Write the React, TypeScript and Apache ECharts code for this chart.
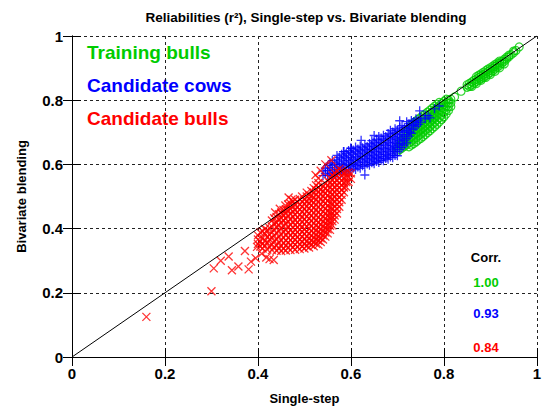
import React, { useEffect, useRef } from "react";
import * as echarts from "echarts";

const TITLE = "Reliabilities (r²), Single-step vs. Bivariate blending";
const X_NAME = "Single-step";
const Y_NAME = "Bivariate blending";
const GROUP_NAMES = ["Training bulls", "Candidate cows", "Candidate bulls"];
const CORR_VALUES = ["1.00", "0.93", "0.84"];
const COLORS = ["#00cc00", "#0000ff", "#ff0000"];

// Each entry: [single-step x, list of bivariate-blending y values read at that x]
const trainingBullsCols: [number, number[]][] = [
  [0.700, [0.640, 0.652]],
  [0.705, [0.646, 0.659, 0.672]],
  [0.710, [0.651, 0.664, 0.677]],
  [0.715, [0.656, 0.669, 0.682, 0.695]],
  [0.720, [0.662, 0.675, 0.688, 0.701]],
  [0.725, [0.655, 0.667, 0.680, 0.693, 0.706]],
  [0.730, [0.660, 0.672, 0.685, 0.698, 0.711, 0.724]],
  [0.735, [0.665, 0.678, 0.691, 0.704, 0.717, 0.730]],
  [0.740, [0.670, 0.683, 0.696, 0.709, 0.722, 0.735]],
  [0.745, [0.676, 0.689, 0.702, 0.715, 0.728, 0.741]],
  [0.750, [0.681, 0.694, 0.707, 0.720, 0.733, 0.746]],
  [0.755, [0.687, 0.700, 0.713, 0.726, 0.739, 0.752]],
  [0.760, [0.693, 0.706, 0.719, 0.732, 0.745, 0.757]],
  [0.765, [0.699, 0.712, 0.725, 0.738, 0.751, 0.763]],
  [0.770, [0.705, 0.718, 0.731, 0.744, 0.757, 0.769]],
  [0.775, [0.712, 0.725, 0.738, 0.751, 0.763, 0.775]],
  [0.780, [0.718, 0.731, 0.744, 0.757, 0.769, 0.781]],
  [0.785, [0.725, 0.738, 0.751, 0.764, 0.776, 0.787]],
  [0.790, [0.732, 0.745, 0.758, 0.770, 0.782, 0.793]],
  [0.795, [0.740, 0.753, 0.765, 0.777, 0.789]],
  [0.800, [0.748, 0.761, 0.773, 0.785, 0.796]],
  [0.805, [0.757, 0.770, 0.782, 0.793, 0.803]],
  [0.810, [0.768, 0.780, 0.791, 0.801]],
  [0.815, [0.780, 0.792, 0.803]],
  [0.823, [0.810]],
  [0.837, [0.828]],
  [0.850, [0.840, 0.848]],
  [0.855, [0.843, 0.852]],
  [0.860, [0.843, 0.848, 0.857]],
  [0.865, [0.853, 0.862]],
  [0.870, [0.852, 0.858, 0.866, 0.873]],
  [0.875, [0.862, 0.870, 0.878]],
  [0.880, [0.862, 0.867, 0.875, 0.882]],
  [0.885, [0.871, 0.879, 0.887]],
  [0.890, [0.871, 0.876, 0.884, 0.892]],
  [0.895, [0.881, 0.889, 0.897]],
  [0.900, [0.880, 0.886, 0.894, 0.901]],
  [0.905, [0.891, 0.899, 0.906]],
  [0.910, [0.890, 0.897, 0.905, 0.911]],
  [0.915, [0.903, 0.910, 0.916]],
  [0.920, [0.901, 0.909, 0.916, 0.922]],
  [0.925, [0.915, 0.922]],
  [0.930, [0.913, 0.921, 0.928]],
  [0.935, [0.928, 0.934]],
  [0.940, [0.935, 0.940]],
  [0.945, [0.942]],
  [0.950, [0.948, 0.953]],
  [0.955, [0.955]],
  [0.962, [0.966]],
];

const candidateCowsCols: [number, number[]][] = [
  [0.540, [0.565, 0.580]],
  [0.545, [0.572, 0.588]],
  [0.550, [0.566, 0.581, 0.596]],
  [0.555, [0.573, 0.589, 0.604]],
  [0.560, [0.567, 0.582, 0.597, 0.612]],
  [0.565, [0.575, 0.590, 0.605]],
  [0.570, [0.570, 0.584, 0.599, 0.614, 0.628]],
  [0.575, [0.578, 0.593, 0.608, 0.622]],
  [0.580, [0.573, 0.587, 0.602, 0.617, 0.632]],
  [0.585, [0.581, 0.596, 0.611, 0.625, 0.640]],
  [0.590, [0.576, 0.590, 0.605, 0.620, 0.634]],
  [0.595, [0.584, 0.599, 0.613, 0.628, 0.643]],
  [0.600, [0.580, 0.594, 0.608, 0.622, 0.637, 0.651]],
  [0.605, [0.588, 0.602, 0.616, 0.631, 0.645]],
  [0.610, [0.584, 0.597, 0.611, 0.625, 0.640, 0.654]],
  [0.615, [0.592, 0.606, 0.620, 0.634, 0.648]],
  [0.620, [0.588, 0.601, 0.615, 0.629, 0.643, 0.657]],
  [0.625, [0.596, 0.610, 0.624, 0.638, 0.652]],
  [0.630, [0.567, 0.593, 0.606, 0.619, 0.633, 0.647, 0.661]],
  [0.635, [0.601, 0.614, 0.628, 0.642, 0.656]],
  [0.640, [0.597, 0.610, 0.623, 0.637, 0.651, 0.665]],
  [0.645, [0.605, 0.618, 0.632, 0.646, 0.660, 0.674]],
  [0.650, [0.602, 0.614, 0.627, 0.641, 0.655, 0.669, 0.690]],
  [0.655, [0.609, 0.622, 0.636, 0.650, 0.664, 0.678]],
  [0.660, [0.606, 0.618, 0.631, 0.645, 0.659, 0.673, 0.687]],
  [0.665, [0.613, 0.626, 0.640, 0.654, 0.668, 0.682]],
  [0.670, [0.611, 0.623, 0.636, 0.649, 0.663, 0.677, 0.691]],
  [0.675, [0.618, 0.631, 0.645, 0.659, 0.673, 0.687]],
  [0.680, [0.616, 0.628, 0.641, 0.654, 0.668, 0.682, 0.696]],
  [0.685, [0.623, 0.636, 0.650, 0.664, 0.678, 0.692, 0.706]],
  [0.690, [0.621, 0.633, 0.646, 0.659, 0.673, 0.687, 0.701]],
  [0.695, [0.628, 0.641, 0.655, 0.669, 0.683, 0.697, 0.711]],
  [0.700, [0.627, 0.639, 0.652, 0.665, 0.679, 0.693, 0.707]],
  [0.705, [0.646, 0.660, 0.674, 0.688, 0.702, 0.716, 0.736]],
  [0.710, [0.652, 0.665, 0.679, 0.693, 0.707, 0.721]],
  [0.715, [0.660, 0.673, 0.686, 0.700, 0.714]],
  [0.720, [0.667, 0.680, 0.693, 0.706, 0.720, 0.733]],
  [0.725, [0.688, 0.701, 0.714, 0.727]],
  [0.730, [0.697, 0.710, 0.723, 0.737]],
  [0.735, [0.710, 0.722, 0.734]],
  [0.740, [0.718, 0.730, 0.742]],
  [0.745, [0.725, 0.737]],
  [0.748, [0.767]],
  [0.750, [0.732, 0.745]],
  [0.760, [0.742, 0.752]],
  [0.766, [0.752]],
  [0.770, [0.745]],
  [0.780, [0.773]],
  [0.790, [0.782]],
  [0.622, [0.675]],
  [0.600, [0.650]],
  [0.584, [0.640]],
];

const candidateBullsCols: [number, number[]][] = [
  [0.160, [0.125]],
  [0.300, [0.205]],
  [0.305, [0.276]],
  [0.320, [0.300]],
  [0.337, [0.313]],
  [0.344, [0.270]],
  [0.358, [0.282]],
  [0.372, [0.330]],
  [0.380, [0.273]],
  [0.385, [0.297]],
  [0.395, [0.308]],
  [0.398, [0.343]],
  [0.400, [0.352, 0.366, 0.379]],
  [0.405, [0.344, 0.360, 0.388]],
  [0.408, [0.322]],
  [0.410, [0.338, 0.353, 0.371, 0.392]],
  [0.415, [0.347, 0.362, 0.384, 0.399]],
  [0.418, [0.310]],
  [0.420, [0.335, 0.356, 0.374, 0.395]],
  [0.425, [0.305, 0.343, 0.366, 0.381, 0.402]],
  [0.430, [0.333, 0.351, 0.372, 0.389, 0.407, 0.425]],
  [0.434, [0.302]],
  [0.435, [0.341, 0.361, 0.378, 0.396, 0.415, 0.432]],
  [0.437, [0.450]],
  [0.440, [0.331, 0.348, 0.367, 0.386, 0.404, 0.418, 0.436]],
  [0.445, [0.339, 0.357, 0.375, 0.393, 0.411, 0.428, 0.445]],
  [0.447, [0.462]],
  [0.450, [0.330, 0.346, 0.364, 0.382, 0.401, 0.419, 0.433, 0.450]],
  [0.452, [0.445]],
  [0.455, [0.337, 0.355, 0.372, 0.390, 0.408, 0.426, 0.442, 0.458]],
  [0.459, [0.472]],
  [0.460, [0.332, 0.347, 0.363, 0.380, 0.397, 0.415, 0.431, 0.447, 0.460]],
  [0.465, [0.340, 0.356, 0.371, 0.388, 0.405, 0.422, 0.440, 0.457, 0.475]],
  [0.466, [0.497]],
  [0.470, [0.333, 0.349, 0.364, 0.379, 0.395, 0.412, 0.429, 0.446, 0.462, 0.478]],
  [0.472, [0.490]],
  [0.475, [0.342, 0.357, 0.372, 0.388, 0.403, 0.420, 0.437, 0.453, 0.469, 0.485]],
  [0.480, [0.334, 0.350, 0.365, 0.381, 0.396, 0.411, 0.427, 0.444, 0.458, 0.473, 0.490]],
  [0.485, [0.343, 0.358, 0.374, 0.389, 0.404, 0.419, 0.435, 0.451, 0.467, 0.483]],
  [0.490, [0.336, 0.351, 0.366, 0.382, 0.397, 0.412, 0.428, 0.443, 0.460, 0.476, 0.492]],
  [0.495, [0.344, 0.359, 0.375, 0.390, 0.405, 0.421, 0.436, 0.452, 0.468, 0.484, 0.500]],
  [0.500, [0.338, 0.352, 0.367, 0.383, 0.398, 0.414, 0.429, 0.445, 0.461, 0.476, 0.490]],
  [0.505, [0.346, 0.361, 0.376, 0.391, 0.407, 0.422, 0.438, 0.454, 0.470, 0.486, 0.500, 0.512]],
  [0.510, [0.341, 0.355, 0.369, 0.384, 0.400, 0.415, 0.431, 0.447, 0.463, 0.479, 0.492, 0.505]],
  [0.515, [0.349, 0.363, 0.378, 0.393, 0.408, 0.424, 0.440, 0.456, 0.472, 0.487, 0.502, 0.517]],
  [0.520, [0.345, 0.358, 0.372, 0.386, 0.401, 0.417, 0.433, 0.449, 0.465, 0.481, 0.497, 0.512, 0.526]],
  [0.524, [0.567]],
  [0.525, [0.353, 0.367, 0.380, 0.395, 0.410, 0.426, 0.442, 0.458, 0.474, 0.490, 0.505, 0.520, 0.535]],
  [0.530, [0.350, 0.362, 0.375, 0.389, 0.404, 0.419, 0.435, 0.451, 0.467, 0.483, 0.499, 0.514, 0.528, 0.542, 0.557]],
  [0.535, [0.358, 0.370, 0.384, 0.398, 0.413, 0.428, 0.444, 0.460, 0.476, 0.492, 0.508, 0.522, 0.580]],
  [0.540, [0.366, 0.379, 0.393, 0.407, 0.422, 0.437, 0.453, 0.469, 0.485, 0.501, 0.516, 0.531]],
  [0.545, [0.375, 0.388, 0.402, 0.416, 0.431, 0.446, 0.462, 0.478, 0.494, 0.510, 0.525, 0.540, 0.600]],
  [0.550, [0.385, 0.398, 0.411, 0.425, 0.440, 0.455, 0.471, 0.487, 0.503, 0.519, 0.534, 0.549]],
  [0.555, [0.396, 0.409, 0.422, 0.436, 0.450, 0.465, 0.480, 0.496, 0.512, 0.528, 0.543, 0.557]],
  [0.558, [0.613]],
  [0.560, [0.410, 0.423, 0.436, 0.449, 0.463, 0.478, 0.493, 0.508, 0.523, 0.538, 0.552, 0.566]],
  [0.565, [0.428, 0.441, 0.455, 0.469, 0.484, 0.499, 0.514, 0.529, 0.544, 0.559, 0.573]],
  [0.570, [0.447, 0.461, 0.475, 0.490, 0.505, 0.520, 0.535, 0.550, 0.565, 0.580]],
  [0.575, [0.468, 0.482, 0.497, 0.512, 0.527, 0.542, 0.557, 0.572, 0.586]],
  [0.580, [0.490, 0.505, 0.520, 0.535, 0.550, 0.565, 0.580]],
  [0.585, [0.513, 0.528, 0.543, 0.558, 0.573]],
  [0.590, [0.530, 0.545, 0.560, 0.575]],
  [0.595, [0.545, 0.560, 0.575]],
  [0.600, [0.555, 0.572]],
];

const diagonal: [number, number][] = [[0, 0], [1, 1]];

const toPoints = (cols: [number, number[]][]) =>
  cols.flatMap(([x, ys]) => ys.map((y) => [x, y]));

const FONT = "'Liberation Sans', Arial, Helvetica, sans-serif";
const PLUS = "path://M0,5L10,5M5,0L5,10";
const CROSS = "path://M0,0L10,10M10,0L0,10";

export default function App() {
  const ref = useRef<HTMLDivElement>(null);
  useEffect(() => {
    if (!ref.current) return;
    const chart = echarts.init(ref.current, null, { renderer: "svg" });
    const grid = { left: 72, right: 5, top: 36, bottom: 48 };
    const axisLine = { show: true, lineStyle: { color: "#000", width: 1 } };
    const tick = { show: true, inside: true, length: 9, lineStyle: { color: "#000", width: 1 } };
    const split = { show: true, lineStyle: { color: "#222", width: 1, type: [3, 3] as any } };
    const label = { fontSize: 15, fontWeight: "bold" as const, color: "#000", fontFamily: FONT };
    const nameStyle = { fontSize: 13, fontWeight: "bold" as const, color: "#000", fontFamily: FONT };
    chart.setOption({
      animation: false,
      grid,
      textStyle: { fontFamily: FONT },
      xAxis: [
        {
          type: "value", min: 0, max: 1, interval: 0.2, position: "bottom",
          axisLine, axisTick: tick, splitLine: split,
          axisLabel: { ...label, margin: 9 },
          name: X_NAME, nameLocation: "middle", nameGap: 35, nameTextStyle: nameStyle,
        },
        {
          type: "value", min: 0, max: 1, interval: 0.2, position: "top",
          axisLine, axisTick: tick, splitLine: { show: false }, axisLabel: { show: false },
        },
      ],
      yAxis: [
        {
          type: "value", min: 0, max: 1, interval: 0.2, position: "left",
          axisLine, axisTick: tick, splitLine: split,
          axisLabel: { ...label, margin: 9 },
          name: Y_NAME, nameLocation: "middle", nameGap: 44, nameTextStyle: nameStyle,
        },
        {
          type: "value", min: 0, max: 1, interval: 0.2, position: "right",
          axisLine, axisTick: tick, splitLine: { show: false }, axisLabel: { show: false },
        },
      ],
      series: [
        {
          type: "scatter", name: GROUP_NAMES[0], data: toPoints(trainingBullsCols), symbol: "circle", symbolSize: 8,
          itemStyle: { color: "transparent", borderColor: COLORS[0], borderWidth: 1.2 }, z: 2,
        },
        {
          type: "scatter", name: GROUP_NAMES[1], data: toPoints(candidateCowsCols), symbol: PLUS, symbolSize: 9,
          itemStyle: { color: "transparent", borderColor: COLORS[1], borderWidth: 1.3 }, z: 3,
        },
        {
          type: "scatter", name: GROUP_NAMES[2], data: toPoints(candidateBullsCols), symbol: CROSS, symbolSize: 8,
          itemStyle: { color: "transparent", borderColor: COLORS[2], borderWidth: 1.3 }, z: 4,
        },
        {
          type: "line", data: diagonal, showSymbol: false, symbol: "none", z: 5,
          lineStyle: { color: "#000", width: 1 },
        },
      ],
      graphic: [
        {
          type: "text", x: 306, y: 17,
          style: { text: TITLE, fill: "#000", font: `bold 13.5px ${FONT}`, textAlign: "center", textVerticalAlign: "middle" },
        },
        ...GROUP_NAMES.map((n, i) => ({
          type: "text", x: 87, y: [52, 85, 118][i],
          style: { text: n, fill: COLORS[i], font: `bold 19px ${FONT}`, textAlign: "left", textVerticalAlign: "middle" },
        })),
        {
          type: "text", x: 486, y: 257,
          style: { text: "Corr.", fill: "#000", font: `bold 13px ${FONT}`, textAlign: "center", textVerticalAlign: "middle" },
        },
        ...CORR_VALUES.map((v, i) => ({
          type: "text", x: 486, y: [282, 313, 347][i],
          style: { text: v, fill: COLORS[i], font: `bold 13px ${FONT}`, textAlign: "center", textVerticalAlign: "middle" },
        })),
      ],
    });
    return () => chart.dispose();
  }, []);
  return <div ref={ref} style={{ width: 544, height: 410, position: "absolute", left: 0, top: 0 }} />;
}
